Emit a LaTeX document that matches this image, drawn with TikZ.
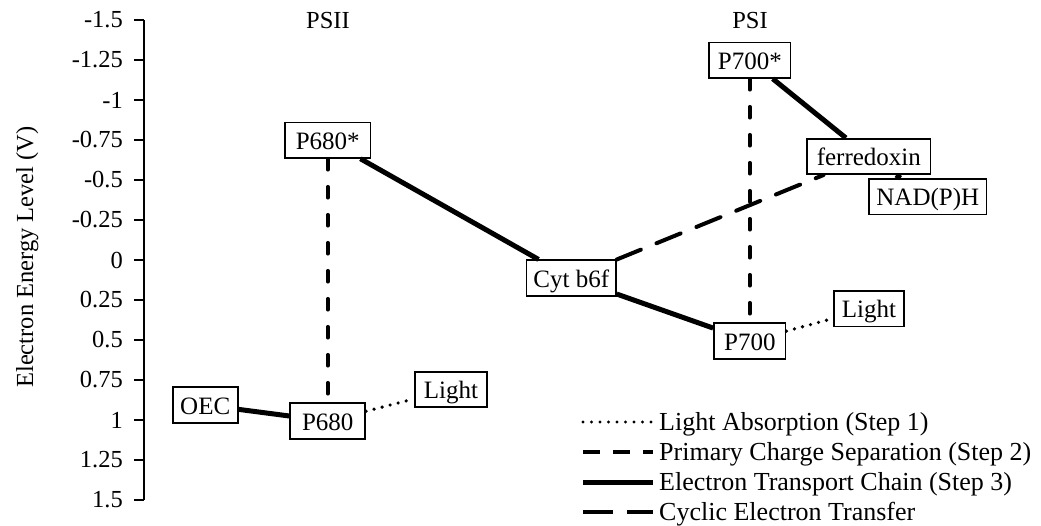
\documentclass[tikz,border=0pt]{standalone}
\usepackage{fontspec}
\setmainfont{Liberation Serif}
\begin{document}
\begin{tikzpicture}[x=1pt,y=-1pt,
  box/.style={draw, line width=1.6pt, fill=white, inner xsep=0pt, inner ysep=0pt,
    minimum height=35.5pt, text height=18pt, text depth=0pt, font=\fontsize{25}{30}\selectfont},
  etc/.style={line width=5pt},
  pcs/.style={line width=3.6pt, line cap=round, dash pattern=on 11pt off 17pt},
  cyc/.style={line width=4pt, line cap=round, dash pattern=on 26pt off 17pt},
  lightabs/.style={line width=3.6pt, line cap=round, dash pattern=on 0pt off 8.3pt},
  axisline/.style={line width=2pt},
  lbl/.style={font=\fontsize{24.5}{29}\selectfont},
  legtext/.style={font=\fontsize{26}{31}\selectfont, anchor=base west, inner sep=0pt},
]
\useasboundingbox (0,0) rectangle (1041,525);

% axis
\coordinate (atop) at (144,20);
\coordinate (abot) at (144,500);
\draw[axisline] (atop) -- (abot);
\foreach \v [count=\i] in {-1.5,-1.25,-1,-0.75,-0.5,-0.25,0,0.25,0.5,0.75,1,1.25,1.5} {
  \coordinate (tka\i) at (134,{260+\v*160});
  \coordinate (tkb\i) at (144,{260+\v*160});
  \draw[axisline] (tka\i) -- (tkb\i);
  \node[lbl, anchor=east, inner sep=0pt] (tick\i) at (123,{260+\v*160}) {\v};
}
\node[lbl, rotate=90, anchor=base, inner sep=0pt] (ylab) at (33,257) {Electron Energy Level (V)};

% headings
\node[lbl, anchor=base, inner sep=0pt] (psii) at (328,28) {PSII};
\node[lbl, anchor=base, inner sep=0pt] (psi) at (750,28) {PSI};

% nodes
\node[box, minimum width=65pt] (oec) at (205.2,405) {OEC};
\node[box, minimum width=75pt] (p680) at (327.7,421) {P680};
\node[box, minimum width=72pt] (light1) at (451,389.5) {Light};
\node[box, minimum width=85.7pt] (p680s) at (327.7,140.2) {P680*};
\node[box, minimum width=89.3pt] (cyt) at (571.3,278) {Cyt b6f};
\node[box, minimum width=71.7pt] (p700) at (749.8,341) {P700};
\node[box, minimum width=70pt] (light2) at (869,308.8) {Light};
\node[box, minimum width=81.7pt] (p700s) at (749.8,60.2) {P700*};
\node[box, minimum width=123.7pt] (fd) at (868.8,156.5) {ferredoxin};
\node[box, minimum width=117.7pt] (nadph) at (927.8,196.7) {NAD(P)H};

% connectors
\draw[etc] (oec) -- (p680);
\draw[lightabs] (p680) -- (light1);
\draw[pcs] (p680s) -- (p680);
\draw[etc] (p680s) -- (cyt);
\draw[etc] (cyt) -- (p700);
\draw[cyc] (cyt) -- (fd);
\draw[pcs] (p700s) -- (p700);
\draw[lightabs] (p700) -- (light2);
\draw[etc] (p700s) -- (fd);
\draw[etc] (fd) -- (nadph);

% legend
\coordinate (la1) at (583,422); \coordinate (lb1) at (653,422);
\coordinate (la2) at (583,452); \coordinate (lb2) at (653,452);
\coordinate (la3) at (583,482); \coordinate (lb3) at (653,482);
\coordinate (la4) at (583,512); \coordinate (lb4) at (653,512);
\draw[line width=3.4pt, line cap=round, dash pattern=on 0pt off 8.5pt] (la1) -- (lb1);
\draw[line width=4.6pt, dash pattern=on 17pt off 13pt] (la2) -- (lb2);
\draw[line width=5pt] (la3) -- (lb3);
\draw[line width=4.6pt, dash pattern=on 30pt off 14pt] (la4) -- (lb4);
\node[legtext] (lt1) at (659,430.6) {Light Absorption (Step 1)};
\node[legtext] (lt2) at (659,460.6) {Primary Charge Separation (Step 2)};
\node[legtext] (lt3) at (659,490.6) {Electron Transport Chain (Step 3)};
\node[legtext] (lt4) at (659,520.6) {Cyclic Electron Transfer};
\end{tikzpicture}
\end{document}
